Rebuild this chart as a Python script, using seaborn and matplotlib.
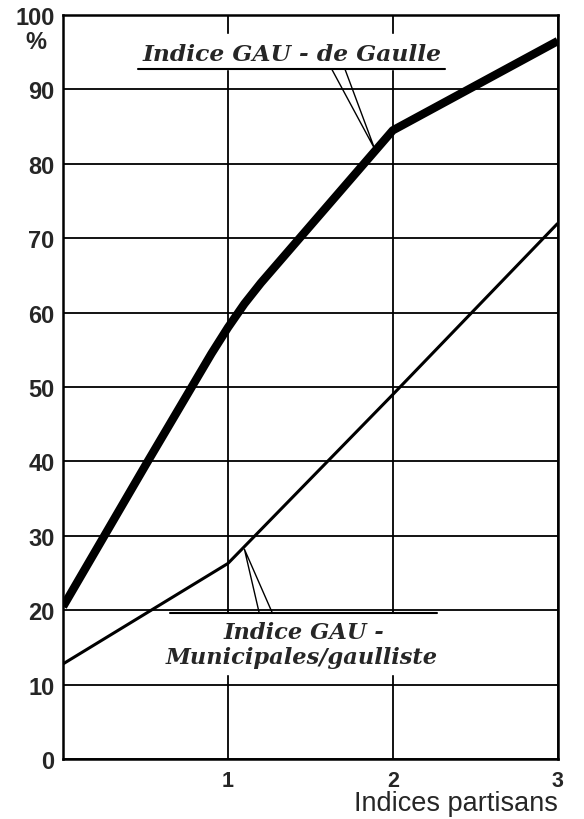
import numpy as np
import pandas as pd
import seaborn as sns
import matplotlib.pyplot as plt
import matplotlib.transforms as mtransforms


# values
x_gaulle = [0, 0.5, 0.9, 1, 1.1, 1.2, 2, 3]
y_gaulle = [20.5, 39.5, 54.5, 58, 61.2, 64, 84.5, 96.5]
x_munic = [0, 1, 2, 3]
y_munic = [12.8, 26.3, 49, 72]
x_ticks = [1, 2, 3]
y_ticks = [0, 10, 20, 30, 40, 50, 60, 70, 80, 90, 100]

df = pd.concat([
    pd.DataFrame({'x': x_gaulle, 'y': y_gaulle, 'serie': 'gaulle'}),
    pd.DataFrame({'x': x_munic, 'y': y_munic, 'serie': 'munic'}),
])

sns.set_style('white')
plt.rcParams['font.family'] = ['Liberation Sans', 'DejaVu Sans']

fig, ax = plt.subplots(figsize=(5.84, 8.2), dpi=100)
fig.subplots_adjust(left=0.108, right=0.955, bottom=0.073, top=0.9805)

sns.lineplot(data=df[df.serie == 'gaulle'], x='x', y='y', color='black',
             linewidth=6, ax=ax, zorder=4, sort=False, solid_capstyle='butt')
sns.lineplot(data=df[df.serie == 'munic'], x='x', y='y', color='black',
             linewidth=2.2, ax=ax, zorder=4, sort=False, solid_capstyle='butt')

ax.set_xlim(0, 3)
ax.set_ylim(0, 100)
ax.set_xticks(x_ticks)
ax.set_yticks(y_ticks)
ax.set_xticklabels([str(t) for t in x_ticks], fontsize=15.5, fontweight='bold')
ax.set_yticklabels([str(t) for t in y_ticks], fontsize=17, fontweight='bold')
ax.tick_params(axis='y', length=0, pad=6)
ax.tick_params(axis='x', length=0, pad=8)
ax.grid(True, color='black', linewidth=1.3)
ax.set_axisbelow(True)
for s in ax.spines.values():
    s.set_color('black')
    s.set_linewidth(1.8)

ax.set_xlabel('Indices partisans', fontsize=19.5, loc='right', labelpad=-1)
ax.set_ylabel('')

trans = mtransforms.blended_transform_factory(ax.transAxes, ax.transData)
ax.text(-0.055, 96.4, '%', transform=trans, ha='center', va='center',
        fontsize=17, fontweight='bold')

# upper label
lab_font = dict(family='DejaVu Serif', style='italic', fontweight='bold')
ax.fill_between([0.455, 2.315], 92.7, 97.4, color='white', zorder=2)
ax.text(1.39, 94.8, 'Indice GAU - de Gaulle', ha='center', va='center', zorder=5,
        fontsize=16.8, **lab_font)
ax.plot([0.455, 2.315], [92.7, 92.7], color='black', linewidth=1.5, zorder=5)
ax.plot([1.63, 1.89, 1.71], [92.7, 82.0, 92.7], color='black', linewidth=1.0, zorder=5)

# lower label
ax.fill_between([0.65, 2.27], 11.4, 19.6, color='white', zorder=2)
ax.plot([0.65, 2.27], [19.6, 19.6], color='black', linewidth=1.5, zorder=5)
ax.plot([1.19, 1.10, 1.27], [19.6, 28.2, 19.6], color='black', linewidth=1.0, zorder=5)
ax.text(1.46, 17.1, 'Indice GAU -', ha='center', va='center', zorder=5,
        fontsize=16.2, **lab_font)
ax.text(1.45, 13.7, 'Municipales/gaulliste', ha='center', va='center', zorder=5,
        fontsize=16.2, **lab_font)

plt.savefig('out.png', dpi=100)
